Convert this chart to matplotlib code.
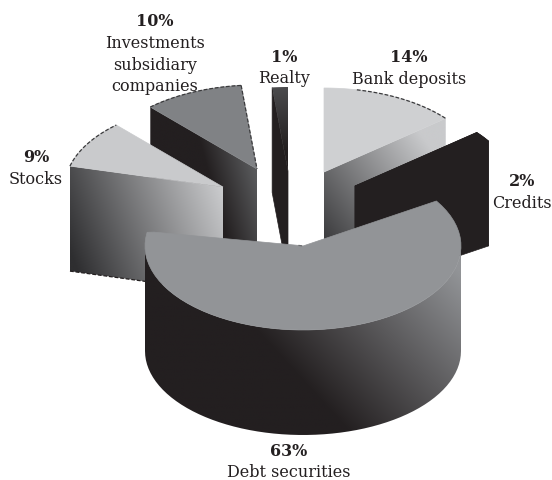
import numpy as np
import matplotlib
matplotlib.use("Agg")
import matplotlib.pyplot as plt
from matplotlib.colors import to_rgb
from matplotlib.patches import Polygon

names = ["Bank deposits", "Credits", "Debt securities", "Stocks",
         "Investments\nsubsidiary\ncompanies", "Realty"]
pct_labels = ["14%", "2%", "63%", "9%", "10%", "1%"]
# the printed labels are rounded and add up to 99, the slices fill the circle
shares = [14, 2, 63, 9.2, 10.2, 1.6]

RX, RY, DEPTH = 158, 84, 105
BLACK = "#231f20"

# where each exploded slice has its tip, in pixels
tips = [(324, 172), (355, 186), (303, 246), (223, 187), (257, 169), (288, 171)]
label_xy = [(409, 58), (522, 182), (289, 451), (36, 158), (155, 22), (284, 57)]

bounds = 90 - np.cumsum([0] + shares) * 3.6

fig = plt.figure(figsize=(5.52, 4.8), dpi=100)
ax = fig.add_axes([0, 0, 1, 1])
ax.set_xlim(0, 552)
ax.set_ylim(480, 0)
ax.axis("off")

z = [1]


def rim(tip, t0, t1, drop=0, n=60):
    t = np.radians(np.linspace(t0, t1, n))
    return np.column_stack([tip[0] + RX * np.cos(t), tip[1] - RY * np.sin(t) + drop])


def flat(pts, color):
    z[0] += 1
    ax.add_patch(Polygon(pts, closed=True, fc=color, ec=color, lw=0.5, zorder=z[0]))


def fade(pts, p0, p1, c0, c1):
    # linear gradient from p0 to p1, clipped to the polygon
    z[0] += 1
    pts = np.asarray(pts)
    x0, y0 = pts.min(axis=0)
    x1, y1 = pts.max(axis=0)
    xx, yy = np.meshgrid(np.linspace(x0, x1, 300), np.linspace(y0, y1, 300))
    d = np.array(p1, float) - np.array(p0, float)
    f = ((xx - p0[0]) * d[0] + (yy - p0[1]) * d[1]) / (d @ d)
    f = np.clip(f, 0, 1)[..., None]
    img = np.array(to_rgb(c0)) * (1 - f) + np.array(to_rgb(c1)) * f
    im = ax.imshow(img, extent=(x0, x1, y1, y0), aspect="auto", zorder=z[0])
    im.set_clip_path(Polygon(pts, closed=True, transform=ax.transData))
    ax.set_xlim(0, 552)
    ax.set_ylim(480, 0)


def cut_face(tip, t):
    r = rim(tip, t, t, n=1)[0]
    return [tip, r, (r[0], r[1] + DEPTH), (tip[0], tip[1] + DEPTH)]


def top(tip, t0, t1):
    return np.vstack([[tip], rim(tip, t0, t1)])


def edge(pts, color="#3a3a3c"):
    pts = np.asarray(pts)
    ax.plot(pts[:, 0], pts[:, 1], color=color, lw=0.9, ls=(0, (3, 1.5)), zorder=z[0] + 0.5)


# back to front: realty, bank, credits, investments, stocks, debt
t0, t1 = bounds[5], bounds[6]
flat(cut_face(tips[5], t0), BLACK)
fade(top(tips[5], t0, t1), (280, 87), (287, 150), "#4b4b4d", BLACK)

t0, t1 = bounds[0], bounds[1]
fade(cut_face(tips[0], t1), (325, 245), (440, 160), "#39393b", "#c9cacc")
flat(top(tips[0], t0, t1), "#cfd0d2")
edge(rim(tips[0], t0 - 12, t1))

t0, t1 = bounds[1], bounds[2]
flat(cut_face(tips[1], t0), BLACK)
flat(cut_face(tips[1], t1), BLACK)
flat(np.vstack([rim(tips[1], t0, t1), rim(tips[1], t1, t0, DEPTH)]), BLACK)
flat(top(tips[1], t0, t1), BLACK)

t0, t1 = bounds[4], bounds[5]
fade(cut_face(tips[4], t0), (215, 195), (258, 183), BLACK, "#58595b")
flat(top(tips[4], t0, t1), "#808285")
edge(rim(tips[4], t0, t1))
edge([rim(tips[4], t1, t1, n=1)[0], tips[4]])

t0, t1 = bounds[3], bounds[4]
fade(cut_face(tips[3], t0), (69, 250), (223, 190), "#2e2e30", "#cbccce")
flat(top(tips[3], t0, t1), "#c9cacc")
edge(rim(tips[3], t0, t1))
low = rim(tips[3], t0, t0, DEPTH, n=1)[0]
edge([low, (tips[3][0], tips[3][1] + DEPTH)], BLACK)

t0, t1 = bounds[2], bounds[3]
wall = np.vstack([rim(tips[2], 0, -180), rim(tips[2], -180, 0, DEPTH)])
fade(wall, (300, 378), (440, 250), BLACK, "#929497")
# the far left corner of the big slice is rounded off
corner = rim(tips[2], t1, t1, n=1)[0]
near_corner = corner + 0.97 * (np.array(tips[2]) - corner)
flat(np.vstack([[tips[2]], rim(tips[2], t0, t1 + 5), [corner + (4, 7)], [near_corner]]), "#929497")
edge([near_corner, tips[2]], "#6d6e71")

serif = "DejaVu Serif"
for name, pct, (x, y) in zip(names, pct_labels, label_xy):
    ax.text(x, y, pct, ha="center", va="center", family=serif, weight="bold",
            fontsize=11.5, color=BLACK, zorder=50)
    for i, line in enumerate(name.split("\n")):
        ax.text(x, y + 21.5 + 21.5 * i, line, ha="center", va="center", family=serif,
                fontsize=11.5, color=BLACK, zorder=50)

fig.savefig("out.png", dpi=100)
